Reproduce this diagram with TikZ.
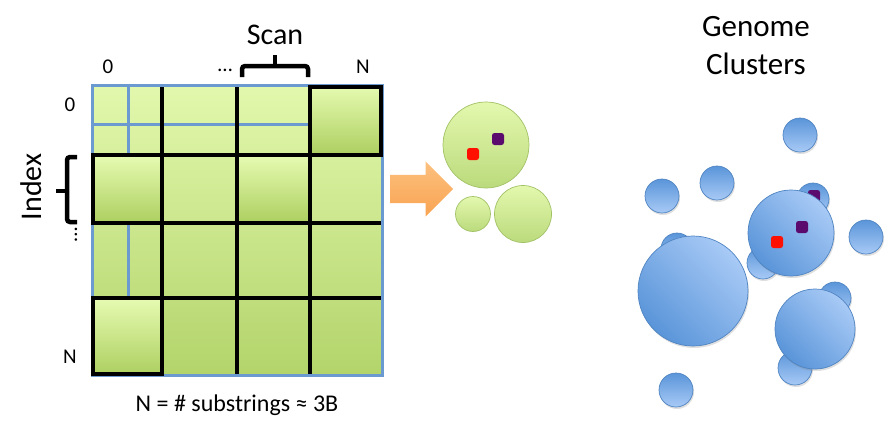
\documentclass[tikz,border=0pt]{standalone}
\usepackage{fontspec}
\setmainfont{Carlito}
\usetikzlibrary{shapes.arrows,shadows}
\definecolor{gtop}{HTML}{E2F8AD}
\definecolor{gbot}{HTML}{B3D46B}
\definecolor{hltop}{HTML}{E6FBB2}
\definecolor{hlbot}{HTML}{ADCF60}
\definecolor{gridblue}{HTML}{6A9ACF}
\definecolor{ctop}{HTML}{E3F8AE}
\definecolor{cbot}{HTML}{BBDA7C}
\definecolor{cedge}{HTML}{A2C266}
\definecolor{bdark}{HTML}{5A95D9}
\definecolor{blight}{HTML}{A8CAF6}
\definecolor{bedge}{HTML}{4F84C2}
\definecolor{otop}{HTML}{FCC07E}
\definecolor{obot}{HTML}{F9A452}
\definecolor{sqred}{HTML}{FF1000}
\definecolor{sqpurple}{HTML}{5B0A6E}
\begin{document}
\begin{tikzpicture}[x=1pt,y=-1pt,
  lab/.style={font=\fontsize{21}{24}\selectfont, inner sep=0pt},
  captext/.style={font=\fontsize{24}{28}\selectfont, inner sep=0pt},
  bigt/.style={font=\fontsize{30}{38}\selectfont, inner sep=0pt, align=center},
  blueline/.style={draw=gridblue, line width=3pt},
  blackline/.style={draw=black, line width=3.5pt},
  hlcell/.style={top color=hltop, bottom color=hlbot},
  bracestyle/.style={draw=black, line width=4.5pt, rounded corners=3pt},
  gcirc/.style={circle, draw=cedge, line width=0.7pt, top color=ctop, bottom color=cbot, inner sep=0pt},
  bsmall/.style={circle, draw=bedge, line width=0.7pt, top color=bdark, bottom color=blight, inner sep=0pt,
     drop shadow={opacity=0.25, shadow xshift=1pt, shadow yshift=-2pt}},
  bbig/.style={circle, draw=bedge, line width=0.7pt, shading=axis, left color=blight, right color=bdark, shading angle=-45, inner sep=0pt,
     drop shadow={opacity=0.25, shadow xshift=1pt, shadow yshift=-2pt}},
  sq/.style={rectangle, rounded corners=2.5pt, minimum size=12pt, inner sep=0pt},
]
\useasboundingbox (0,0) rectangle (895,445);

% ---------- matrix ----------
\fill[top color=gtop, bottom color=gbot] (92,85) rectangle (382,375);
\fill[hlcell] (310,85) rectangle (382,155);
\fill[hlcell] (92,155) rectangle (162,223);
\fill[hlcell] (237,155) rectangle (310,223);
\fill[hlcell] (92,298) rectangle (162,375);

\draw[blueline] (128,85) -- (128,155);
\draw[blueline] (128,223) -- (128,298);
\draw[blueline] (92,124) -- (310,124);
\draw[blueline] (92,85) rectangle (382,375);

\draw[blackline] (162,87) -- (162,374);
\draw[blackline] (237,87) -- (237,374);
\draw[blackline] (310,87) -- (310,374);
\draw[blackline] (93,155) -- (381,155);
\draw[blackline] (93,223) -- (381,223);
\draw[blackline] (93,298) -- (381,298);
\draw[blackline] (310,87) rectangle (381,155);
\draw[blackline] (93,155) rectangle (162,223);
\draw[blackline] (93,298) rectangle (162,374);

% ---------- labels ----------
\node[lab] (c0) at (108,67) {0};
\node[lab] (cdots) at (225,70) {…};
\node[lab] (cN) at (363,67) {N};
\node[bigt] (scan) at (275,35) {Scan};
\node[lab] (r0) at (70,105) {0};
\node[lab] (rN) at (70,357) {N};
\node[bigt, rotate=90] (index) at (31,187) {Index};
\node[lab, rotate=-90] (rdots) at (76,235) {…};
\node[captext] (note) at (237,405) {N = \# substrings ≈ 3B};

% braces
\draw[bracestyle] (242,77) -- (242,66) -- (308,66) -- (308,77);
\draw[bracestyle, rounded corners=0pt] (275,66) -- (275,55);
\draw[bracestyle] (77,157) -- (67,157) -- (67,222) -- (77,222);
\draw[bracestyle, rounded corners=0pt] (67,191) -- (56,191);

% ---------- arrow ----------
\node[single arrow, top color=otop, bottom color=obot, minimum height=63pt,
      text height=0pt, text depth=0pt, text width=0pt, inner xsep=0pt, inner ysep=14pt,
      single arrow head extend=13.5pt, anchor=tail] (arr) at (390,189) {};

% ---------- green clusters ----------
\node[gcirc, minimum size=86pt] (g1) at (486,145) {};
\node[gcirc, minimum size=35pt] (g2) at (473,214) {};
\node[gcirc, minimum size=57pt] (g3) at (523,214) {};
\node[sq, fill=sqred] (gr) at (473,154) {};
\node[sq, fill=sqpurple] (gp) at (498,139) {};

% ---------- genome clusters ----------
\node[bigt, font=\fontsize{31}{38}\selectfont] (gc) at (756,46) {Genome\\Clusters};

\node[bsmall, minimum size=34pt] (b1) at (800,135) {};
\node[bsmall, minimum size=34pt] (b2) at (717,183) {};
\node[bsmall, minimum size=34pt] (b3) at (662,196) {};
\node[bsmall, minimum size=32pt] (b4) at (813,199) {};
\node[sq, fill=sqpurple] (bp0) at (814,196) {};
\node[bsmall, minimum size=34pt] (b6) at (866,237) {};
\node[bsmall, minimum size=32pt] (b7) at (763,263) {};
\node[bsmall, minimum size=32pt] (b8) at (677,249) {};
\node[bsmall, minimum size=32pt] (b10) at (835,298) {};
\node[bsmall, minimum size=34pt] (b12) at (795,368) {};
\node[bsmall, minimum size=34pt] (b13) at (676,390) {};
\node[bbig, minimum size=86pt] (b5) at (791,233) {};
\node[sq, fill=sqred] (br) at (777,242) {};
\node[sq, fill=sqpurple] (bp) at (802,227) {};
\node[bbig, minimum size=110pt] (b9) at (693,291) {};
\node[bbig, minimum size=80pt] (b11) at (815,329) {};
\end{tikzpicture}
\end{document}
